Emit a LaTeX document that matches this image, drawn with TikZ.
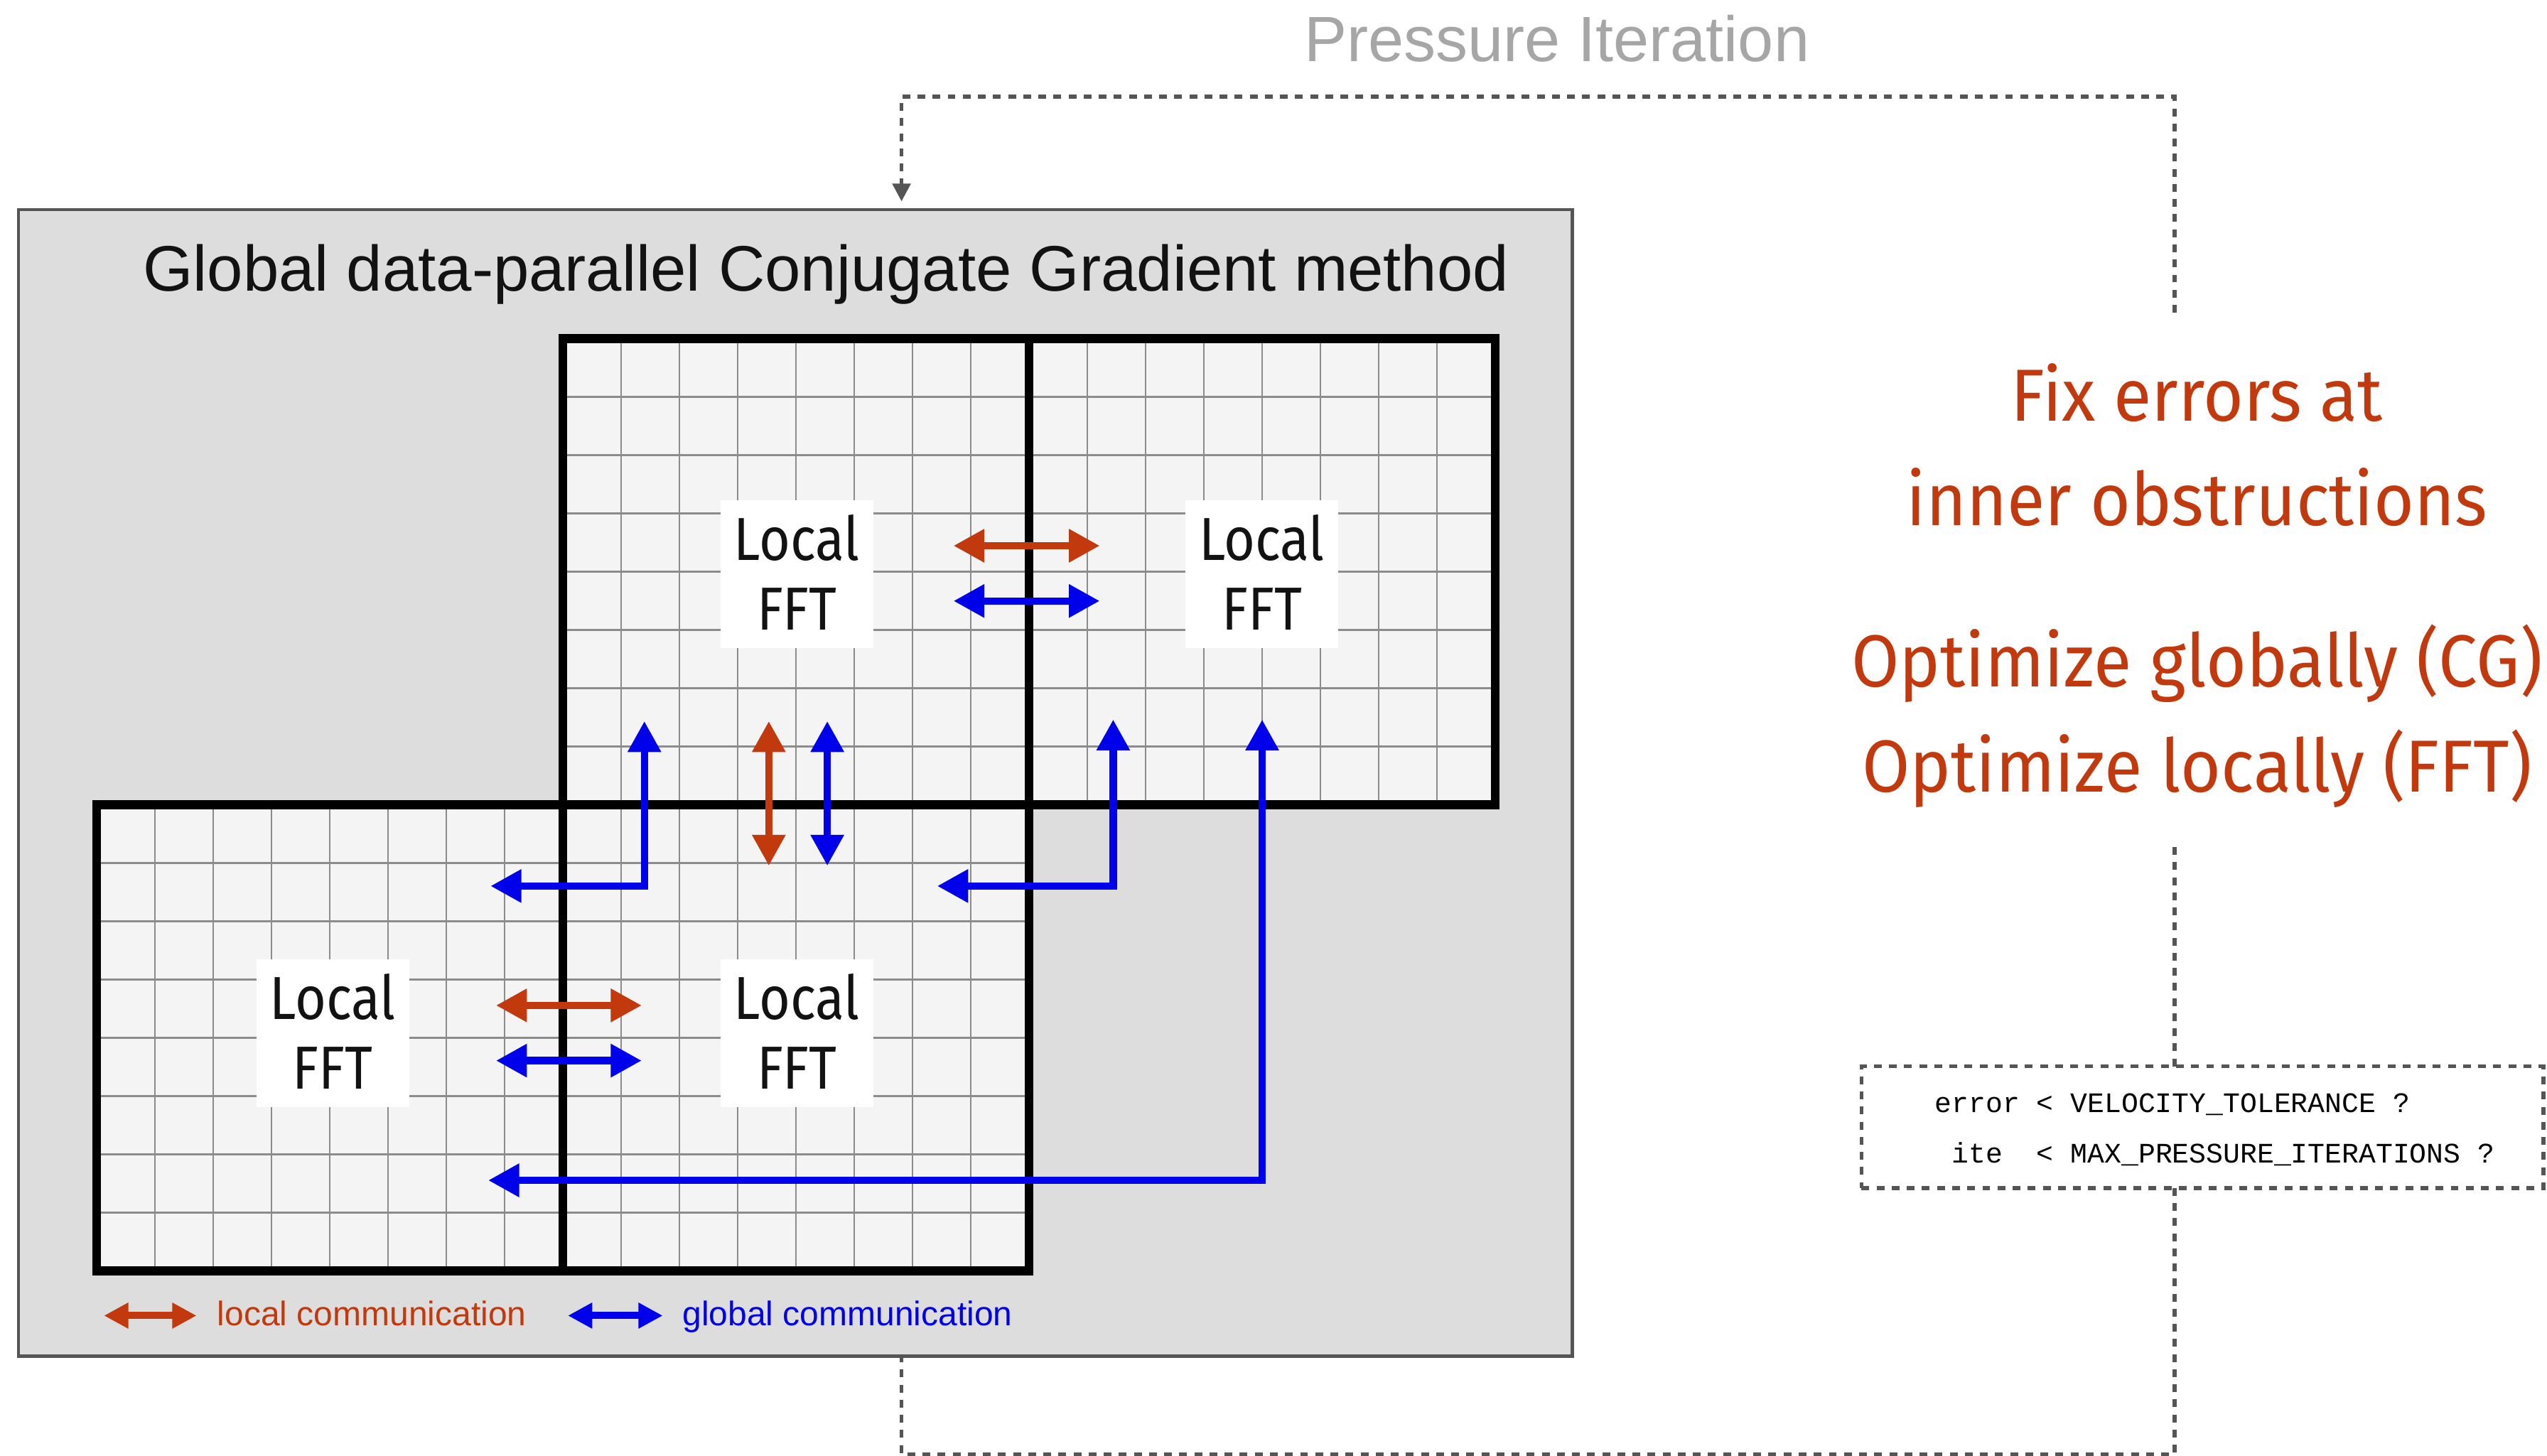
\documentclass[tikz,border=0pt]{standalone}
\usepackage{fontspec}
\setmainfont{Liberation Sans}
\newfontfamily\firac[FakeStretch=0.88]{Fira Sans}
\newfontfamily\firar[FakeStretch=0.94]{Fira Sans}
\newfontfamily\monof{Liberation Mono}
\usetikzlibrary{arrows.meta}
\definecolor{locred}{RGB}{193,57,12}
\definecolor{globblue}{RGB}{0,0,235}
\definecolor{loopgray}{RGB}{85,85,85}
\definecolor{boxgray}{RGB}{221,221,221}
\definecolor{cellfill}{RGB}{244,244,244}
\definecolor{fineline}{RGB}{140,140,140}
\definecolor{titlegray}{RGB}{166,166,166}
\tikzset{
  loopline/.style={draw=loopgray, line width=2.3pt, dash pattern=on 4.8pt off 4.5pt},
  cgbox/.style={draw=loopgray, fill=boxgray, line width=2pt, inner sep=0pt},
  finegrid/.style={draw=fineline, line width=1.2pt},
  blockborder/.style={draw=black, line width=5.5pt, line join=miter},
  fftbox/.style={fill=white, inner sep=0pt, minimum width=94pt, minimum height=90.8pt},
  fftlbl/.style={font=\firac\fontsize{37.4}{43}\selectfont, inner sep=0pt, anchor=base, text=black!93},
  redtxt/.style={font=\firar\fontsize{45.4}{50}\selectfont, inner sep=0pt, anchor=base, text=locred},
  comm/.style={line width=4.5pt, {Triangle[length=19pt,width=19.5pt]}-{Triangle[length=19pt,width=19.5pt]}},
  lcomm/.style={comm, draw=locred},
  gcomm/.style={comm, draw=globblue, line join=miter},
  legarrow/.style={line width=4.4pt, {Triangle[length=15pt,width=15pt]}-{Triangle[length=15pt,width=15pt]}},
  legtxt/.style={font=\fontsize{21}{24}\selectfont, inner sep=0pt, anchor=base west},
  monotxt/.style={font=\monof\fontsize{17.4}{20}\selectfont, inner sep=0pt, anchor=base west}
}
\begin{document}
\begin{tikzpicture}[x=1pt,y=-1pt]
\useasboundingbox (0,0) rectangle (1568,896.4);
\fill[white] (0,0) rectangle (1568,896.4);

% title of loop
\node[anchor=base, inner sep=0pt, font=\fontsize{39.4}{45}\selectfont, text=titlegray] (pit) at (958.5,38) {Pressure Iteration};

% main gray box
\node[cgbox, minimum width=956.7pt, minimum height=706pt] (cg) at (489.65,482) {};
\node[anchor=base, inner sep=0pt, font=\fontsize{39.6}{45}\selectfont, text=black!93] (cgt) at (508.5,179) {Global data-parallel Conjugate Gradient method};

% grid blocks
\foreach \bx/\by in {346.5/208.5, 633.5/208.5, 59.5/495.5, 346.5/495.5} {
  \fill[cellfill] (\bx,\by) rectangle ++(287,287);
  \foreach \i in {1,...,7} {
    \draw[finegrid] ({\bx+\i*35.875},\by) -- ++(0,287);
    \draw[finegrid] (\bx,{\by+\i*35.875}) -- ++(287,0);
  }
}
\foreach \bx/\by in {346.5/208.5, 633.5/208.5, 59.5/495.5, 346.5/495.5} {
  \draw[blockborder] (\bx,\by) rectangle ++(287,287);
}

% Local FFT labels
\foreach \n/\cx/\cy in {a/490.6/353.4, b/776.8/353.4, c/204.9/636, d/490.6/636} {
  \node[fftbox] (fft\n) at (\cx,\cy) {};
  \node[fftlbl] (fft\n l) at (\cx,{\cy-8.6}) {Local};
  \node[fftlbl] (fft\n f) at (\cx,{\cy+34.4}) {FFT};
}

% communication arrow end points
\coordinate (r1a) at (587,336);   \coordinate (r1b) at (677,336);
\coordinate (b1a) at (587,370);   \coordinate (b1b) at (677,370);
\coordinate (r2a) at (473.3,444); \coordinate (r2b) at (473.3,533);
\coordinate (b2a) at (509.3,444); \coordinate (b2b) at (509.3,533);
\coordinate (r3a) at (305.4,619); \coordinate (r3b) at (395,619);
\coordinate (b3a) at (305.4,653); \coordinate (b3b) at (395,653);
\coordinate (g1a) at (396.7,444); \coordinate (g1b) at (302,545.5);
\coordinate (g2a) at (685.3,443); \coordinate (g2b) at (577,545.5);
\coordinate (g3a) at (777,443);   \coordinate (g3b) at (300.6,726.7);

\draw[lcomm] (r1a) -- (r1b);
\draw[gcomm] (b1a) -- (b1b);
\draw[lcomm] (r2a) -- (r2b);
\draw[gcomm] (b2a) -- (b2b);
\draw[lcomm] (r3a) -- (r3b);
\draw[gcomm] (b3a) -- (b3b);
\draw[gcomm] (g1a) |- (g1b);
\draw[gcomm] (g2a) |- (g2b);
\draw[gcomm] (g3a) |- (g3b);

% legend
\coordinate (lgr1) at (64,810);    \coordinate (lgr2) at (121,810);
\coordinate (lgb1) at (349.6,810); \coordinate (lgb2) at (408,810);
\draw[legarrow, draw=locred] (lgr1) -- (lgr2);
\draw[legarrow, draw=globblue] (lgb1) -- (lgb2);
\node[legtxt, text=locred] (lgrt) at (133.6,816) {local communication};
\node[legtxt, text=globblue] (lgbt) at (420,816) {global communication};

% right side text
\node[redtxt] (rt1) at (1352.5,259.3) {Fix errors at};
\node[redtxt] (rt2) at (1352.5,323.6) {inner obstructions};
\node[redtxt] (rt3) at (1352.5,422.9) {Optimize globally (CG)};
\node[redtxt] (rt4) at (1352.5,487.4) {Optimize locally (FFT)};

% check box
\node[loopline, inner sep=0pt, minimum width=419.8pt, minimum height=74.9pt] (chk) at (1355.9,694) {};
\node[monotxt] (chk1) at (1191,685) {error < VELOCITY\_TOLERANCE ?};
\node[monotxt] (chk2) at (1191,716) {\ ite\ \ < MAX\_PRESSURE\_ITERATIONS ?};

% iteration loop
\coordinate (lpR1) at (1338.7,192.5);
\coordinate (lpTR) at (1338.7,59.5);
\coordinate (lpTL) at (555,59.5);
\coordinate (lpIn) at (555,124);
\coordinate (lpR2) at (1338.7,521.5);
\coordinate (lpR3) at (1338.7,656.5);
\coordinate (lpR4) at (1338.7,731.4);
\coordinate (lpBR) at (1338.7,895.4);
\coordinate (lpBL) at (555,895.4);
\coordinate (lpOut) at (555,835);
\draw[loopline, -{Triangle[length=11pt,width=11pt,fill=loopgray]}] (lpR1) -- (lpTR) -- (lpTL) -- (lpIn);
\draw[loopline] (lpR2) -- (lpR3);
\draw[loopline] (lpR4) -- (lpBR) -- (lpBL) -- (lpOut);
\end{tikzpicture}
\end{document}
